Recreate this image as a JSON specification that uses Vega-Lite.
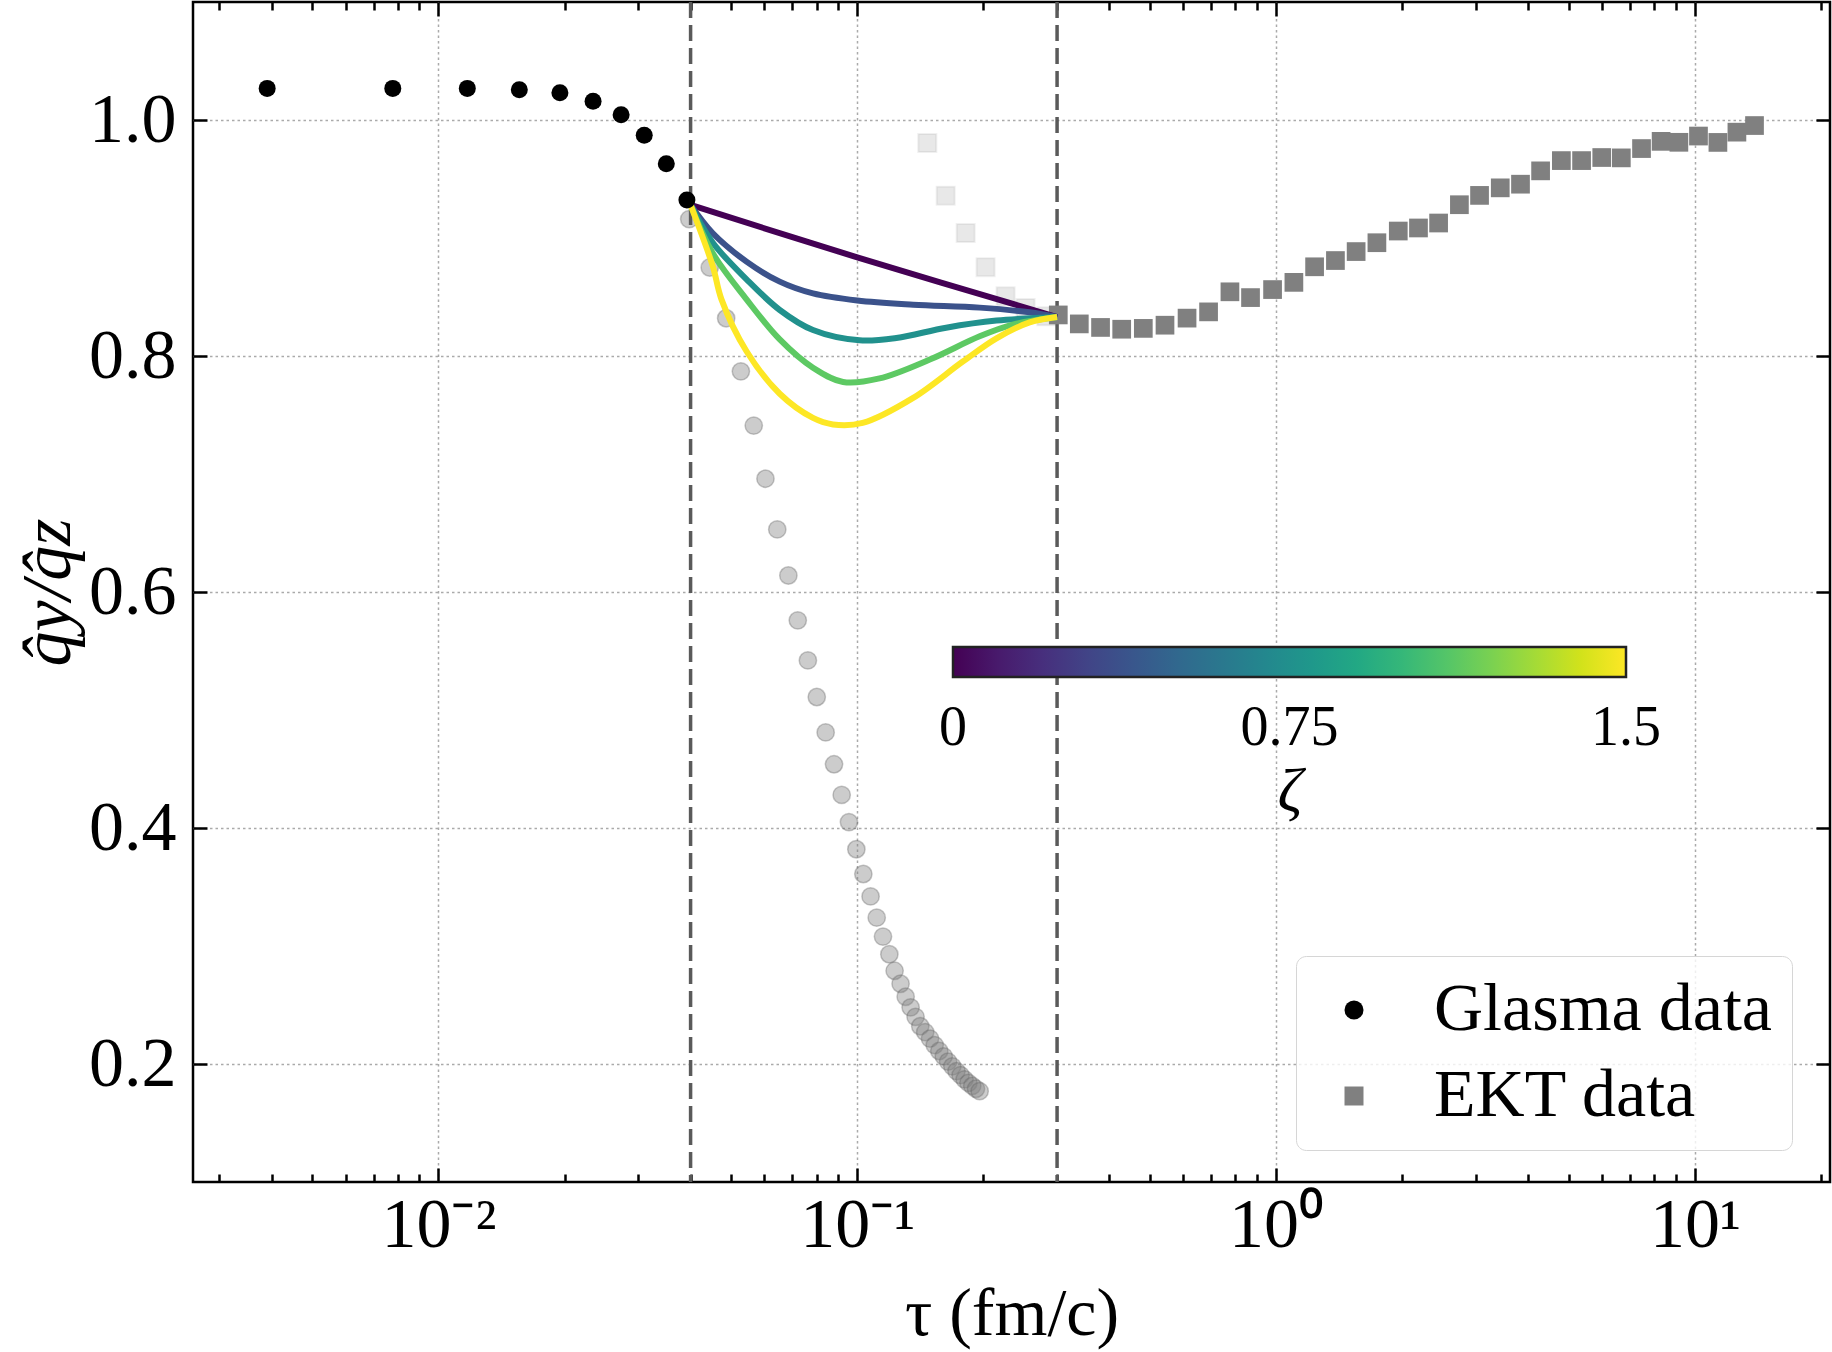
{
  "$schema": "https://vega.github.io/schema/vega-lite/v6.json",
  "width": 1637,
  "height": 1180,
  "autosize": {"type": "none"},
  "padding": {"left": 193, "top": 2, "right": 2, "bottom": 170},
  "background": "white",
  "config": {
    "view": {"stroke": "black", "strokeWidth": 2.5},
    "font": "Liberation Serif",
    "axis": {"labelFont": "Liberation Serif", "titleFont": "Liberation Serif", "labelColor": "black", "titleColor": "black", "titleFontWeight": "normal"},
    "legend": {"labelFont": "Liberation Serif", "titleFont": "Liberation Serif"}
  },
  "datasets": {
    "glasma": [
      {"tau": 0.0039, "r": 1.0268, "series": "Glasma data"},
      {"tau": 0.00778, "r": 1.0268, "series": "Glasma data"},
      {"tau": 0.01172, "r": 1.0268, "series": "Glasma data"},
      {"tau": 0.0156, "r": 1.0257, "series": "Glasma data"},
      {"tau": 0.0195, "r": 1.0231, "series": "Glasma data"},
      {"tau": 0.0234, "r": 1.0159, "series": "Glasma data"},
      {"tau": 0.0273, "r": 1.0045, "series": "Glasma data"},
      {"tau": 0.031, "r": 0.9871, "series": "Glasma data"},
      {"tau": 0.035, "r": 0.963, "series": "Glasma data"},
      {"tau": 0.0392, "r": 0.9323, "series": "Glasma data"}
    ],
    "glasma_tail": [
      {"tau": 0.0397, "r": 0.916}, {"tau": 0.04444, "r": 0.875}, {"tau": 0.04864, "r": 0.832},
      {"tau": 0.05274, "r": 0.787}, {"tau": 0.05661, "r": 0.741}, {"tau": 0.06037, "r": 0.696},
      {"tau": 0.06442, "r": 0.653}, {"tau": 0.06847, "r": 0.614}, {"tau": 0.07211, "r": 0.576},
      {"tau": 0.07623, "r": 0.542}, {"tau": 0.08005, "r": 0.511}, {"tau": 0.08406, "r": 0.481},
      {"tau": 0.08801, "r": 0.454}, {"tau": 0.0918, "r": 0.428}, {"tau": 0.09554, "r": 0.405},
      {"tau": 0.09951, "r": 0.382}, {"tau": 0.1034, "r": 0.361}, {"tau": 0.1076, "r": 0.342},
      {"tau": 0.1113, "r": 0.324}, {"tau": 0.1152, "r": 0.308}, {"tau": 0.1193, "r": 0.293},
      {"tau": 0.1228, "r": 0.279}, {"tau": 0.1269, "r": 0.268}, {"tau": 0.1305, "r": 0.257},
      {"tau": 0.1341, "r": 0.248}, {"tau": 0.1378, "r": 0.24}, {"tau": 0.1414, "r": 0.232},
      {"tau": 0.1453, "r": 0.227}, {"tau": 0.1492, "r": 0.2215}, {"tau": 0.1531, "r": 0.216},
      {"tau": 0.157, "r": 0.211}, {"tau": 0.1609, "r": 0.2065}, {"tau": 0.1648, "r": 0.202},
      {"tau": 0.1687, "r": 0.198}, {"tau": 0.1726, "r": 0.194}, {"tau": 0.1765, "r": 0.1905},
      {"tau": 0.1804, "r": 0.187}, {"tau": 0.1843, "r": 0.184}, {"tau": 0.1882, "r": 0.1815},
      {"tau": 0.1921, "r": 0.179}, {"tau": 0.196, "r": 0.177}
    ],
    "ekt_faded": [
      {"tau": 0.147, "r": 0.9805}, {"tau": 0.1626, "r": 0.9359}, {"tau": 0.1815, "r": 0.9042},
      {"tau": 0.2025, "r": 0.8753}, {"tau": 0.226, "r": 0.8506}, {"tau": 0.2523, "r": 0.8407},
      {"tau": 0.2828, "r": 0.8336}
    ],
    "ekt": [
      {"tau": 0.302, "r": 0.8348, "series": "EKT data"}, {"tau": 0.339, "r": 0.8272, "series": "EKT data"},
      {"tau": 0.381, "r": 0.8242, "series": "EKT data"}, {"tau": 0.428, "r": 0.8227, "series": "EKT data"},
      {"tau": 0.482, "r": 0.8234, "series": "EKT data"}, {"tau": 0.543, "r": 0.8261, "series": "EKT data"},
      {"tau": 0.613, "r": 0.8321, "series": "EKT data"}, {"tau": 0.69, "r": 0.8374, "series": "EKT data"},
      {"tau": 0.776, "r": 0.8544, "series": "EKT data"}, {"tau": 0.869, "r": 0.8495, "series": "EKT data"},
      {"tau": 0.981, "r": 0.8563, "series": "EKT data"}, {"tau": 1.103, "r": 0.8624, "series": "EKT data"},
      {"tau": 1.236, "r": 0.8756, "series": "EKT data"}, {"tau": 1.386, "r": 0.8809, "series": "EKT data"},
      {"tau": 1.553, "r": 0.8885, "series": "EKT data"}, {"tau": 1.741, "r": 0.896, "series": "EKT data"},
      {"tau": 1.958, "r": 0.9059, "series": "EKT data"}, {"tau": 2.188, "r": 0.9085, "series": "EKT data"},
      {"tau": 2.444, "r": 0.9127, "series": "EKT data"}, {"tau": 2.74, "r": 0.9282, "series": "EKT data"},
      {"tau": 3.061, "r": 0.9361, "series": "EKT data"}, {"tau": 3.43, "r": 0.9425, "series": "EKT data"},
      {"tau": 3.834, "r": 0.9456, "series": "EKT data"}, {"tau": 4.282, "r": 0.9569, "series": "EKT data"},
      {"tau": 4.8, "r": 0.9656, "series": "EKT data"}, {"tau": 5.364, "r": 0.9656, "series": "EKT data"},
      {"tau": 5.993, "r": 0.9682, "series": "EKT data"}, {"tau": 6.674, "r": 0.9679, "series": "EKT data"},
      {"tau": 7.458, "r": 0.9758, "series": "EKT data"}, {"tau": 8.306, "r": 0.9819, "series": "EKT data"},
      {"tau": 9.158, "r": 0.9811, "series": "EKT data"}, {"tau": 10.2, "r": 0.9864, "series": "EKT data"},
      {"tau": 11.35, "r": 0.981, "series": "EKT data"}, {"tau": 12.6, "r": 0.9897, "series": "EKT data"},
      {"tau": 13.88, "r": 0.9953, "series": "EKT data"}
    ],
    "curves": [
      {"zeta": 0, "tau": 0.04, "r": 0.928}, {"zeta": 0, "tau": 0.1, "r": 0.8836}, {"zeta": 0, "tau": 0.3, "r": 0.833},
      {"zeta": 0.375, "tau": 0.04, "r": 0.928}, {"zeta": 0.375, "tau": 0.0452, "r": 0.904}, {"zeta": 0.375, "tau": 0.0544, "r": 0.88},
      {"zeta": 0.375, "tau": 0.0653, "r": 0.863}, {"zeta": 0.375, "tau": 0.0784, "r": 0.853}, {"zeta": 0.375, "tau": 0.1, "r": 0.847},
      {"zeta": 0.375, "tau": 0.136, "r": 0.8435}, {"zeta": 0.375, "tau": 0.196, "r": 0.841}, {"zeta": 0.375, "tau": 0.258, "r": 0.837},
      {"zeta": 0.375, "tau": 0.3, "r": 0.833},
      {"zeta": 0.75, "tau": 0.04, "r": 0.928}, {"zeta": 0.75, "tau": 0.0452, "r": 0.896}, {"zeta": 0.75, "tau": 0.0544, "r": 0.865},
      {"zeta": 0.75, "tau": 0.0653, "r": 0.839}, {"zeta": 0.75, "tau": 0.0784, "r": 0.822}, {"zeta": 0.75, "tau": 0.1013, "r": 0.8133},
      {"zeta": 0.75, "tau": 0.124, "r": 0.8153}, {"zeta": 0.75, "tau": 0.163, "r": 0.824}, {"zeta": 0.75, "tau": 0.215, "r": 0.83},
      {"zeta": 0.75, "tau": 0.3, "r": 0.833},
      {"zeta": 1.125, "tau": 0.04, "r": 0.928}, {"zeta": 1.125, "tau": 0.0452, "r": 0.887}, {"zeta": 1.125, "tau": 0.0544, "r": 0.848},
      {"zeta": 1.125, "tau": 0.0653, "r": 0.814}, {"zeta": 1.125, "tau": 0.0784, "r": 0.79}, {"zeta": 1.125, "tau": 0.0925, "r": 0.778},
      {"zeta": 1.125, "tau": 0.113, "r": 0.781}, {"zeta": 1.125, "tau": 0.149, "r": 0.797}, {"zeta": 1.125, "tau": 0.196, "r": 0.8167},
      {"zeta": 1.125, "tau": 0.235, "r": 0.8266}, {"zeta": 1.125, "tau": 0.3, "r": 0.833},
      {"zeta": 1.5, "tau": 0.04, "r": 0.928}, {"zeta": 1.5, "tau": 0.0452, "r": 0.876}, {"zeta": 1.5, "tau": 0.0474, "r": 0.848},
      {"zeta": 1.5, "tau": 0.0544, "r": 0.804}, {"zeta": 1.5, "tau": 0.0653, "r": 0.768}, {"zeta": 1.5, "tau": 0.0784, "r": 0.7475},
      {"zeta": 1.5, "tau": 0.0875, "r": 0.742}, {"zeta": 1.5, "tau": 0.103, "r": 0.7433}, {"zeta": 1.5, "tau": 0.136, "r": 0.7645},
      {"zeta": 1.5, "tau": 0.179, "r": 0.7955}, {"zeta": 1.5, "tau": 0.215, "r": 0.815}, {"zeta": 1.5, "tau": 0.258, "r": 0.8285},
      {"zeta": 1.5, "tau": 0.3, "r": 0.833}
    ],
    "vlines": [{"tau": 0.04}, {"tau": 0.3}]
  },
  "layer": [
    {
      "data": {"name": "glasma_tail"},
      "mark": {"type": "point", "shape": "circle", "size": 300, "fill": "#808080", "fillOpacity": 0.4, "stroke": "#606060", "strokeOpacity": 0.35, "strokeWidth": 1.5},
      "encoding": {
        "x": {
          "field": "tau", "type": "quantitative",
          "scale": {"type": "log", "domain": [0.002594, 21.02], "nice": false},
          "axis": {
            "orient": "bottom",
            "values": [0.003, 0.004, 0.005, 0.006, 0.007, 0.008, 0.009, 0.01, 0.02, 0.03, 0.04, 0.05, 0.06, 0.07, 0.08, 0.09, 0.1, 0.2, 0.3, 0.4, 0.5, 0.6, 0.7, 0.8, 0.9, 1, 2, 3, 4, 5, 6, 7, 8, 9, 10, 20],
            "labelExpr": "datum.value == 0.01 ? '10⁻²' : datum.value == 0.1 ? '10⁻¹' : datum.value == 1 ? '10⁰' : datum.value == 10 ? '10¹' : ''",
            "tickSize": {"condition": {"test": "datum.value == 0.01 || datum.value == 0.1 || datum.value == 1 || datum.value == 10", "value": -14}, "value": -8},
            "tickColor": "black", "tickWidth": 2.5,
            "grid": true, "gridColor": "#aaaaaa", "gridWidth": 1.5, "gridDash": [2.5, 3],
            "gridOpacity": {"condition": {"test": "datum.value == 0.01 || datum.value == 0.1 || datum.value == 1 || datum.value == 10", "value": 1}, "value": 0},
            "domain": false,
            "labelFontSize": 70, "labelPadding": 23, "labelFlush": false, "labelOverlap": false, "labelBound": false,
            "title": "τ (fm/c)", "titleFontSize": 68, "titlePadding": 14
          }
        },
        "y": {
          "field": "r", "type": "quantitative",
          "scale": {"domain": [0.1, 1.1], "nice": false, "zero": false},
          "axis": {
            "orient": "left",
            "values": [0.2, 0.4, 0.6, 0.8, 1.0],
            "format": ".1f",
            "tickSize": -14, "tickColor": "black", "tickWidth": 2.5,
            "grid": true, "gridColor": "#aaaaaa", "gridWidth": 1.5, "gridDash": [2.5, 3],
            "domain": false,
            "labelFontSize": 70, "labelPadding": 31,
            "title": "q̂y/q̂z", "titleFontSize": 70, "titleFontStyle": "italic", "titlePadding": 4
          }
        }
      }
    },
    {
      "data": {"name": "ekt_faded"},
      "mark": {"type": "point", "shape": "square", "size": 324, "fill": "#808080", "fillOpacity": 0.18, "stroke": "#808080", "strokeOpacity": 0.12, "strokeWidth": 2},
      "encoding": {
        "x": {
          "field": "tau", "type": "quantitative",
          "scale": {"type": "log", "domain": [0.002594, 21.02], "nice": false},
          "axis": {
            "orient": "top",
            "values": [0.003, 0.004, 0.005, 0.006, 0.007, 0.008, 0.009, 0.01, 0.02, 0.03, 0.04, 0.05, 0.06, 0.07, 0.08, 0.09, 0.1, 0.2, 0.3, 0.4, 0.5, 0.6, 0.7, 0.8, 0.9, 1, 2, 3, 4, 5, 6, 7, 8, 9, 10, 20],
            "labels": false,
            "tickSize": {"condition": {"test": "datum.value == 0.01 || datum.value == 0.1 || datum.value == 1 || datum.value == 10", "value": -14}, "value": -8},
            "tickColor": "black", "tickWidth": 2.5,
            "grid": false, "domain": false, "title": null
          }
        },
        "y": {
          "field": "r", "type": "quantitative",
          "scale": {"domain": [0.1, 1.1], "nice": false, "zero": false},
          "axis": {
            "orient": "right",
            "values": [0.2, 0.4, 0.6, 0.8, 1.0],
            "labels": false,
            "tickSize": -14, "tickColor": "black", "tickWidth": 2.5,
            "grid": false, "domain": false, "title": null
          }
        }
      }
    },
    {
      "data": {"name": "vlines"},
      "mark": {"type": "rule", "color": "#5a5a5a", "strokeWidth": 3.5, "strokeDash": [16, 7]},
      "encoding": {
        "x": {"field": "tau", "type": "quantitative", "scale": {"type": "log", "domain": [0.002594, 21.02], "nice": false}, "axis": null}
      }
    },
    {
      "data": {"name": "ekt"},
      "mark": {"type": "point", "filled": true, "size": 350, "opacity": 1},
      "encoding": {
        "x": {"field": "tau", "type": "quantitative", "scale": {"type": "log", "domain": [0.002594, 21.02], "nice": false}, "axis": null},
        "y": {"field": "r", "type": "quantitative", "scale": {"domain": [0.1, 1.1], "nice": false, "zero": false}, "axis": null},
        "color": {
          "field": "series", "type": "nominal",
          "scale": {"domain": ["Glasma data", "EKT data"], "range": ["black", "#808080"]},
          "legend": {
            "orient": "none", "legendX": 1103, "legendY": 954, "title": null,
            "padding": 20, "strokeColor": "#d6d6d6", "cornerRadius": 10, "fillColor": "rgba(255,255,255,0.8)",
            "symbolSize": 361, "symbolOffset": 4, "symbolStrokeWidth": 0,
            "labelFontSize": 68, "labelColor": "black", "labelOffset": 46, "labelLimit": 800,
            "rowPadding": 18,
            "encode": {"legend": {"update": {"strokeWidth": {"value": 4}}}}
          }
        },
        "shape": {
          "field": "series", "type": "nominal",
          "scale": {"domain": ["Glasma data", "EKT data"], "range": ["circle", "square"]}
        }
      }
    },
    {
      "data": {"name": "curves"},
      "mark": {"type": "line", "strokeWidth": 6, "interpolate": "catmull-rom"},
      "encoding": {
        "x": {"field": "tau", "type": "quantitative", "scale": {"type": "log", "domain": [0.002594, 21.02], "nice": false}, "axis": null},
        "y": {"field": "r", "type": "quantitative", "scale": {"domain": [0.1, 1.1], "nice": false, "zero": false}, "axis": null},
        "detail": {"field": "zeta", "type": "nominal"},
        "stroke": {
          "field": "zeta", "type": "quantitative",
          "scale": {"scheme": "viridis", "domain": [0, 1.5]},
          "legend": {
            "orient": "none", "legendX": 760, "legendY": 645, "direction": "horizontal",
            "gradientLength": 673, "gradientThickness": 30, "gradientStrokeColor": "#222222", "gradientStrokeWidth": 2.5,
            "values": [0, 0.75, 1.5],
            "labelExpr": "datum.value == 0 ? '0' : datum.value == 0.75 ? '0.75' : '1.5'",
            "labelFontSize": 56, "labelColor": "black", "labelOffset": 24,
            "title": "ζ", "titleFontSize": 62, "titleFontWeight": "normal", "titleFontStyle": "italic", "titleColor": "black",
            "titleOrient": "bottom", "titleAnchor": "middle", "titlePadding": 6,
            "padding": 0,
            "encode": {"labels": {"update": {"align": {"value": "center"}}}}
          }
        }
      }
    },
    {
      "data": {"name": "glasma"},
      "mark": {"type": "point", "filled": true, "size": 289, "opacity": 1},
      "encoding": {
        "x": {"field": "tau", "type": "quantitative", "scale": {"type": "log", "domain": [0.002594, 21.02], "nice": false}, "axis": null},
        "y": {"field": "r", "type": "quantitative", "scale": {"domain": [0.1, 1.1], "nice": false, "zero": false}, "axis": null},
        "color": {
          "field": "series", "type": "nominal",
          "scale": {"domain": ["Glasma data", "EKT data"], "range": ["black", "#808080"]},
          "legend": {
            "orient": "none", "legendX": 1103, "legendY": 954, "title": null,
            "padding": 20, "strokeColor": "#d6d6d6", "cornerRadius": 10, "fillColor": "rgba(255,255,255,0.8)",
            "symbolSize": 361, "symbolOffset": 4, "symbolStrokeWidth": 0,
            "labelFontSize": 68, "labelColor": "black", "labelOffset": 46, "labelLimit": 800,
            "rowPadding": 18,
            "encode": {"legend": {"update": {"strokeWidth": {"value": 4}}}}
          }
        },
        "shape": {
          "field": "series", "type": "nominal",
          "scale": {"domain": ["Glasma data", "EKT data"], "range": ["circle", "square"]}
        }
      }
    }
  ],
  "resolve": {"axis": {"x": "independent", "y": "independent"}}
}
